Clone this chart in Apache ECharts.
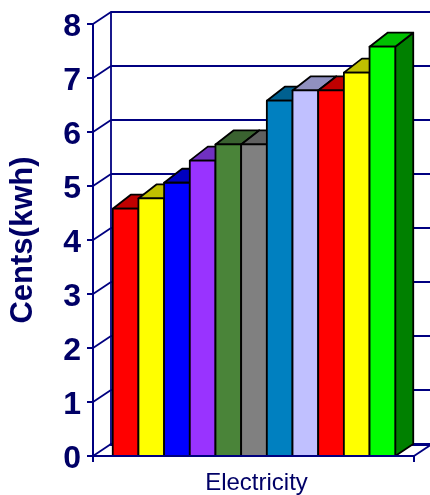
<!DOCTYPE html>
<html><head><meta charset="utf-8">
<style>html,body{margin:0;padding:0;background:#fff}#c{width:430px;height:495px}</style>
<script src="https://cdn.jsdelivr.net/npm/echarts@6/dist/echarts.min.js"></script>
</head><body><div id="c"></div>
<script>
const categories = ['Electricity'];
const yTicks = [0,1,2,3,4,5,6,7,8];
const values = [4.58,4.77,5.06,5.47,5.77,5.77,6.58,6.77,6.77,7.1,7.58];
const frontColors = ['#ff0000','#ffff00','#0000ff','#9933ff','#4a8439','#808080','#0080c0','#c0c0ff','#ff0000','#ffff00','#00ff00'];
const topColors = ['#c00000','#c0c000','#0000c0','#7030c0','#3a6230','#606060','#006090','#9090c0','#c00000','#c0c000','#00c000'];
const sideColors = ['#800000','#808000','#000080','#502080','#254020','#404040','#004060','#606080','#800000','#808000','#008000'];
const navy = '#000080', ink = '#000066', font = '"Liberation Sans", Arial, sans-serif';
const DX = 18, DYTOP = 14, DYBOTTOM = 12, WALLDY = 12;
const barShare = 0.08;

function renderFrame(params, api) {
  const v = api.value(0);
  const band = api.size([1, 0])[0];
  const c = api.coord([0, v]);
  const left = c[0] - band / 2, right = c[0] + band / 2;
  const line = (x, y) => ({ type: 'line', shape: { x1: x, y1: y, x2: x + DX, y2: y - WALLDY },
    style: { stroke: navy, lineWidth: 1.8 } });
  const children = [line(left, c[1])];
  if (v === 0) children.push(line(right, c[1]));
  return { type: 'group', children };
}
function renderBar(params, api) {
  const i = params.dataIndex;
  const band = api.size([1, 0])[0];
  const w = band * barShare;
  const t = api.coord([0, api.value(0)]);
  const b = api.coord([0, 0]);
  const x0 = t[0] + (i - values.length / 2) * w + 0.5, x1 = x0 + w, yT = t[1], yB = b[1];
  const border = { stroke: '#000', lineWidth: 1.8, lineJoin: 'round' };
  const poly = (points, fill) => ({ type: 'polygon', shape: { points }, style: { fill, ...border } });
  return { type: 'group', children: [
    poly([[x1,yB],[x1+DX,yB-DYBOTTOM],[x1+DX,yT-DYTOP],[x1,yT]], sideColors[i]),
    poly([[x0,yT],[x0+DX,yT-DYTOP],[x1+DX,yT-DYTOP],[x1,yT]], topColors[i]),
    poly([[x0,yT],[x1,yT],[x1,yB],[x0,yB]], frontColors[i])
  ]};
}
const chart = echarts.init(document.getElementById('c'), null, { renderer: 'canvas' });
chart.setOption({
  animation: false,
  grid: [
    { left: 93, top: 24, width: 321, height: 432, outerBoundsMode: 'none' },
    { left: 111, top: 12, width: 330, height: 432, outerBoundsMode: 'none' }
  ],
  xAxis: [
    { gridIndex: 0, type: 'category', data: categories, z: 6,
      axisLine: { lineStyle: { color: navy, width: 2 } },
      axisTick: { show: true, alignWithLabel: false, length: 6, lineStyle: { color: navy, width: 2 } },
      axisLabel: { color: ink, fontFamily: font, fontSize: 24, margin: 15, padding: [0, 0, 0, 6] } },
    { gridIndex: 1, type: 'category', data: categories, position: 'top',
      axisLine: { lineStyle: { color: navy, width: 3 } },
      axisTick: { show: false }, axisLabel: { show: false } }
  ],
  yAxis: [
    { gridIndex: 0, type: 'value', min: 0, max: 8, interval: 1, name: 'Cents(kwh)',
      nameLocation: 'middle', nameGap: 54,
      nameTextStyle: { color: ink, fontFamily: font, fontWeight: 'bold', fontSize: 31 },
      axisLine: { show: true, lineStyle: { color: navy, width: 2 } },
      axisTick: { show: true, length: 6, lineStyle: { color: navy, width: 2 } },
      axisLabel: { color: ink, fontFamily: font, fontWeight: 'bold', fontSize: 32, margin: 12, verticalAlign: 'top', lineHeight: 6 },
      splitLine: { show: false } },
    { gridIndex: 1, type: 'value', min: 0, max: 8, interval: 1,
      axisLine: { show: true, lineStyle: { color: navy, width: 1.8 } },
      axisTick: { show: false }, axisLabel: { show: false },
      splitLine: { show: true, lineStyle: { color: navy, width: 1.8, type: 'solid' } } }
  ],
  series: [
    { type: 'custom', name: 'frame', xAxisIndex: 0, yAxisIndex: 0, z: 1, silent: true,
      renderItem: renderFrame, data: yTicks.map(v => [v]), encode: { y: 0 } },
    { type: 'custom', name: 'Electricity', xAxisIndex: 0, yAxisIndex: 0, z: 3,
      renderItem: renderBar, data: values.map(v => [v]), encode: { y: 0 } }
  ]
});
</script></body></html>
